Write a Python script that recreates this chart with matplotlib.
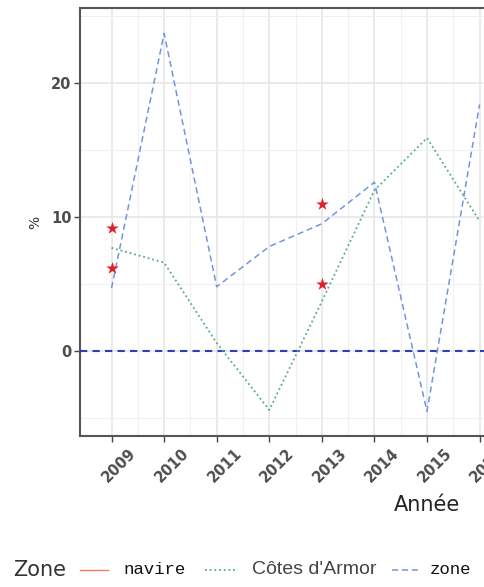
import numpy as np
import matplotlib
matplotlib.use("Agg")
import matplotlib.pyplot as plt
from matplotlib.lines import Line2D
from matplotlib.ticker import MultipleLocator
import matplotlib.transforms as mtransforms

# -------------------------------
# DATA
# -------------------------------
years = [2009, 2010, 2011, 2012, 2013, 2014, 2015, 2016]
cotes_armor = [7.7, 6.6, 0.6, -4.4, 3.7, 12.0, 15.9, 9.7]
zone = [4.7, 23.7, 4.8, 7.8, 9.5, 12.6, -4.5, 18.4]

navire_years = [2009, 2009, 2013, 2013]
navire = [9.2, 6.2, 11.0, 5.0]

# full set of year categories on the x axis
all_years = list(range(2009, 2022))

# -------------------------------
# FIGURE
# -------------------------------
W, H = 484, 587
fig = plt.figure(figsize=(W / 100, H / 100), dpi=100)
fig.patch.set_facecolor("white")

# panel is wider than the saved image
left, right, top, bottom = 80, 774, 8, 436
ax = fig.add_axes([left / W, 1 - bottom / H, (right - left) / W, (bottom - top) / H])

ax.set_xlim(all_years[0] - 0.6, all_years[-1] + 0.6)
ax.set_ylim(-6.34, 25.6)

# grid, ggplot style
ax.set_xticks(all_years)
ax.set_xticks(np.array(all_years[:-1]) + 0.5, minor=True)
ax.yaxis.set_major_locator(MultipleLocator(10))
ax.yaxis.set_minor_locator(MultipleLocator(5))
ax.grid(which="major", color="#E6E6E6", lw=1.2)
ax.grid(which="minor", color="#F0F0F0", lw=0.8)
ax.set_axisbelow(True)

for s in ax.spines.values():
    s.set_color("#555555")
    s.set_linewidth(1.5)

# lines
ax.axhline(0, color="#2B3FB8", lw=1.5, ls=(0, (3.5, 2.5)), zorder=3)
ax.plot(years, cotes_armor, color="#55AC85", lw=1.3, ls=(0, (1, 1.6)), zorder=4)
ax.plot(years, zone, color="#7394E0", lw=1.1, ls=(0, (4, 2.5)), zorder=4)
ax.scatter(navire_years, navire, marker="*", s=90, color="#E0202A", zorder=5, linewidths=0)

# ticks
ax.tick_params(which="major", length=4, width=1, color="#444444",
               labelsize=10.5, labelcolor="#4D4D4D", pad=2)
ax.tick_params(which="minor", length=0)
ax.set_yticklabels([f"{int(v)}" for v in ax.get_yticks()], fontweight="bold")
ax.set_xticklabels([str(y) for y in all_years], fontweight="bold",
                   rotation=45, ha="center", va="top")
shift = mtransforms.ScaledTranslation(8 / 100, -1 / 100, fig.dpi_scale_trans)
for lab in ax.get_xticklabels():
    lab.set_transform(lab.get_transform() + shift)

# axis titles
fig.text(35 / W, 1 - 222 / H, "%", rotation=90, ha="center", va="center",
         fontsize=10, color="#333333")
fig.text(427 / W, 1 - 505 / H, "Année", ha="center", va="center",
         fontsize=15, color="#222222")

# -------------------------------
# LEGEND (bottom)
# -------------------------------
ly = 1 - 570 / H
fig.text(13 / W, ly, "Zone", ha="left", va="center", fontsize=15, color="#333333")
fig.add_artist(Line2D([80 / W, 108 / W], [ly, ly], color="#F8766D", lw=1.0))
fig.text(123 / W, ly, "navire", ha="left", va="center", fontsize=12.5,
         family="Liberation Mono", color="#111111")
fig.add_artist(Line2D([205 / W, 238 / W], [ly, ly], color="#55AC85", lw=1.3,
                      ls=(0, (1, 1.6))))
fig.text(252 / W, ly, "Côtes d'Armor", ha="left", va="center", fontsize=14,
         family="Liberation Sans", color="#444444")
fig.add_artist(Line2D([392 / W, 420 / W], [ly, ly], color="#7394E0", lw=1.1,
                      ls=(0, (4, 2.5))))
fig.text(430 / W, ly, "zone", ha="left", va="center", fontsize=12.5,
         family="Liberation Mono", color="#111111")

fig.savefig("out.png", dpi=100)
